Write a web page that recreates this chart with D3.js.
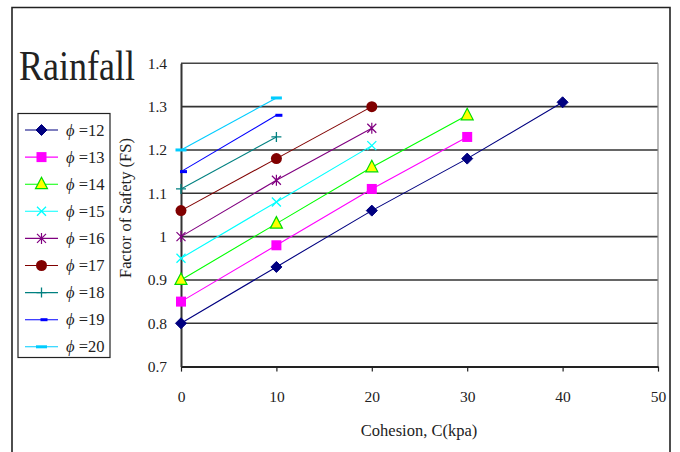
<!DOCTYPE html>
<html><head><meta charset="utf-8">
<script src="https://cdn.jsdelivr.net/npm/d3@7"></script>
<style>body{margin:0;background:#fff}svg{display:block}text{font-family:"Liberation Serif","DejaVu Serif",serif;fill:#222}</style>
</head><body>
<svg id="c" width="680" height="452"></svg>
<script>
const cohesion = [0, 10, 20, 30, 40];
const seriesNames = ["12","13","14","15","16","17","18","19","20"];
const phi12 = [0.80, 0.93, 1.06, 1.18, 1.31];
const phi13 = [0.85, 0.98, 1.11, 1.23];
const phi14 = [0.90, 1.03, 1.16, 1.28];
const phi15 = [0.95, 1.08, 1.21];
const phi16 = [1.00, 1.13, 1.25];
const phi17 = [1.06, 1.18, 1.30];
const phi18 = [1.11, 1.23];
const phi19 = [1.15, 1.28];
const phi20 = [1.20, 1.32];
const yTicks = [0.7, 0.8, 0.9, 1.0, 1.1, 1.2, 1.3, 1.4];
const yTickLabels = ["0.7","0.8","0.9","1","1.1","1.2","1.3","1.4"];
const xTicks = [0, 10, 20, 30, 40, 50];

const allValues = [phi12, phi13, phi14, phi15, phi16, phi17, phi18, phi19, phi20];
const styles = [
  {line:"#000080", marker:"diamond", fill:"#000080", stroke:"#000080"},
  {line:"#FF00FF", marker:"square", fill:"#FF00FF", stroke:"#FF00FF"},
  {line:"#00FF00", marker:"triangle", fill:"#FFFF00", stroke:"#00DD00"},
  {line:"#00FFFF", marker:"x", fill:"none", stroke:"#00FFFF"},
  {line:"#800080", marker:"star", fill:"none", stroke:"#800080"},
  {line:"#800000", marker:"circle", fill:"#800000", stroke:"#800000"},
  {line:"#008080", marker:"plus", fill:"none", stroke:"#008080"},
  {line:"#0000FF", marker:"shortdash", fill:"none", stroke:"#0000FF"},
  {line:"#00CCFF", marker:"dash", fill:"none", stroke:"#00CCFF"}
];

const svg = d3.select("#c");
const x = d3.scaleLinear().domain([0, 50]).range([181, 658]);
const y = d3.scaleLinear().domain([0.7, 1.4]).range([366.6, 63.3]);

// outer frame
svg.append("path").attr("d","M12,460V7.5H670V460").attr("fill","none").attr("stroke","#222").attr("stroke-width",1.6);

// title
svg.append("text").attr("transform","translate(19,79.5) scale(1,1.17)").attr("font-size",36).text("Rainfall");

// gridlines
svg.append("g").selectAll("line").data(yTicks.filter(v => v > 0.75 && v < 1.35)).join("line")
  .attr("x1", x(0)).attr("x2", x(50)).attr("y1", d => y(d)).attr("y2", d => y(d))
  .attr("stroke","#333").attr("stroke-width",1.6);
// plot border top + right
svg.append("line").attr("x1",x(0)).attr("x2",x(50)).attr("y1",y(1.4)).attr("y2",y(1.4)).attr("stroke","#444").attr("stroke-width",1.6);
svg.append("line").attr("x1",x(50)).attr("x2",x(50)).attr("y1",y(1.4)).attr("y2",y(0.7)).attr("stroke","#8a8a8a").attr("stroke-width",1.2);

// axes
const xAxis = d3.axisBottom(x).tickValues(xTicks).tickSize(5).tickSizeOuter(0).tickPadding(19).tickFormat(d3.format("d"));
const gx = svg.append("g").attr("transform",`translate(0,${y(0.7)})`).call(xAxis);
gx.select(".domain").attr("stroke","#222").attr("stroke-width",2);
gx.selectAll(".tick line").attr("stroke","#222").attr("stroke-width",1.2);
gx.selectAll(".tick text").attr("font-size",15.5).attr("fill","#222").attr("font-family","Liberation Serif, serif");

const yAxis = d3.axisLeft(y).tickValues(yTicks).tickSize(0).tickPadding(14).tickFormat((d,i) => yTickLabels[i]);
const gy = svg.append("g").attr("transform",`translate(${x(0)},0)`).call(yAxis);
gy.select(".domain").attr("stroke","#333").attr("stroke-width",2);
gy.selectAll(".tick text").attr("font-size",15.5).attr("fill","#222").attr("font-family","Liberation Serif, serif");

// axis titles
svg.append("text").attr("x",419).attr("y",436).attr("text-anchor","middle").attr("font-size",16.5).text("Cohesion, C(kpa)");
svg.append("text").attr("transform","translate(131,208) rotate(-90)").attr("text-anchor","middle").attr("font-size",16.5).text("Factor of Safety (FS)");

// marker drawing
function drawMarker(g, type, cx, cy, st) {
  const s = 5;
  if (type === "diamond") {
    g.append("path").attr("d",`M${cx},${cy-s-0.5}L${cx+s+0.5},${cy}L${cx},${cy+s+0.5}L${cx-s-0.5},${cy}Z`).attr("fill",st.fill).attr("stroke",st.stroke);
  } else if (type === "square") {
    g.append("rect").attr("x",cx-5).attr("y",cy-5).attr("width",10).attr("height",10).attr("fill",st.fill);
  } else if (type === "triangle") {
    g.append("path").attr("d",`M${cx},${cy-7}L${cx+6},${cy+4.5}L${cx-6},${cy+4.5}Z`).attr("fill",st.fill).attr("stroke",st.stroke).attr("stroke-width",1.2);
  } else if (type === "x") {
    g.append("path").attr("d",`M${cx-4.5},${cy-4.5}L${cx+4.5},${cy+4.5}M${cx-4.5},${cy+4.5}L${cx+4.5},${cy-4.5}`).attr("stroke",st.stroke).attr("stroke-width",1.3);
  } else if (type === "star") {
    g.append("path").attr("d",`M${cx-4.5},${cy-4.5}L${cx+4.5},${cy+4.5}M${cx-4.5},${cy+4.5}L${cx+4.5},${cy-4.5}M${cx},${cy-5.5}L${cx},${cy+5.5}`).attr("stroke",st.stroke).attr("stroke-width",1.2);
  } else if (type === "circle") {
    g.append("circle").attr("cx",cx).attr("cy",cy).attr("r",5.5).attr("fill",st.fill);
  } else if (type === "plus") {
    g.append("path").attr("d",`M${cx-5},${cy}L${cx+5},${cy}M${cx},${cy-5}L${cx},${cy+5}`).attr("stroke",st.stroke).attr("stroke-width",1.3);
  } else if (type === "shortdash") {
    g.append("rect").attr("x",cx-1).attr("y",cy-1.5).attr("width",7).attr("height",3).attr("fill",st.stroke);
  } else if (type === "dash") {
    g.append("rect").attr("x",cx-5.5).attr("y",cy-1.5).attr("width",11).attr("height",3).attr("fill",st.stroke);
  }
}

const line = d3.line().x((d,i) => x(cohesion[i])).y(d => y(d));
const linesG = svg.append("g");
const marksG = svg.append("g");
allValues.forEach((vals, k) => {
  const st = styles[k];
  linesG.append("path").datum(vals).attr("d", line).attr("fill","none").attr("stroke", st.line).attr("stroke-width",1.1);
  vals.forEach((v, i) => drawMarker(marksG, st.marker, x(cohesion[i]), y(v), st));
});

// legend
const lg = svg.append("g");
lg.append("rect").attr("x",18).attr("y",113.5).attr("width",92).attr("height",244).attr("fill","#fff").attr("stroke","#222").attr("stroke-width",1.2);
seriesNames.forEach((nm, k) => {
  const cy = 130 + k * 27.1;
  const st = styles[k];
  lg.append("line").attr("x1",25).attr("x2",58).attr("y1",cy).attr("y2",cy).attr("stroke",st.line).attr("stroke-width",1.1);
  drawMarker(lg, st.marker, 41.5, cy, st);
  const t = lg.append("text").attr("x",66).attr("y",cy+5.5).attr("font-size",16.5);
  t.append("tspan").attr("font-style","italic").text("ϕ");
  t.append("tspan").text(" =" + nm);
});
</script>
</body></html>
